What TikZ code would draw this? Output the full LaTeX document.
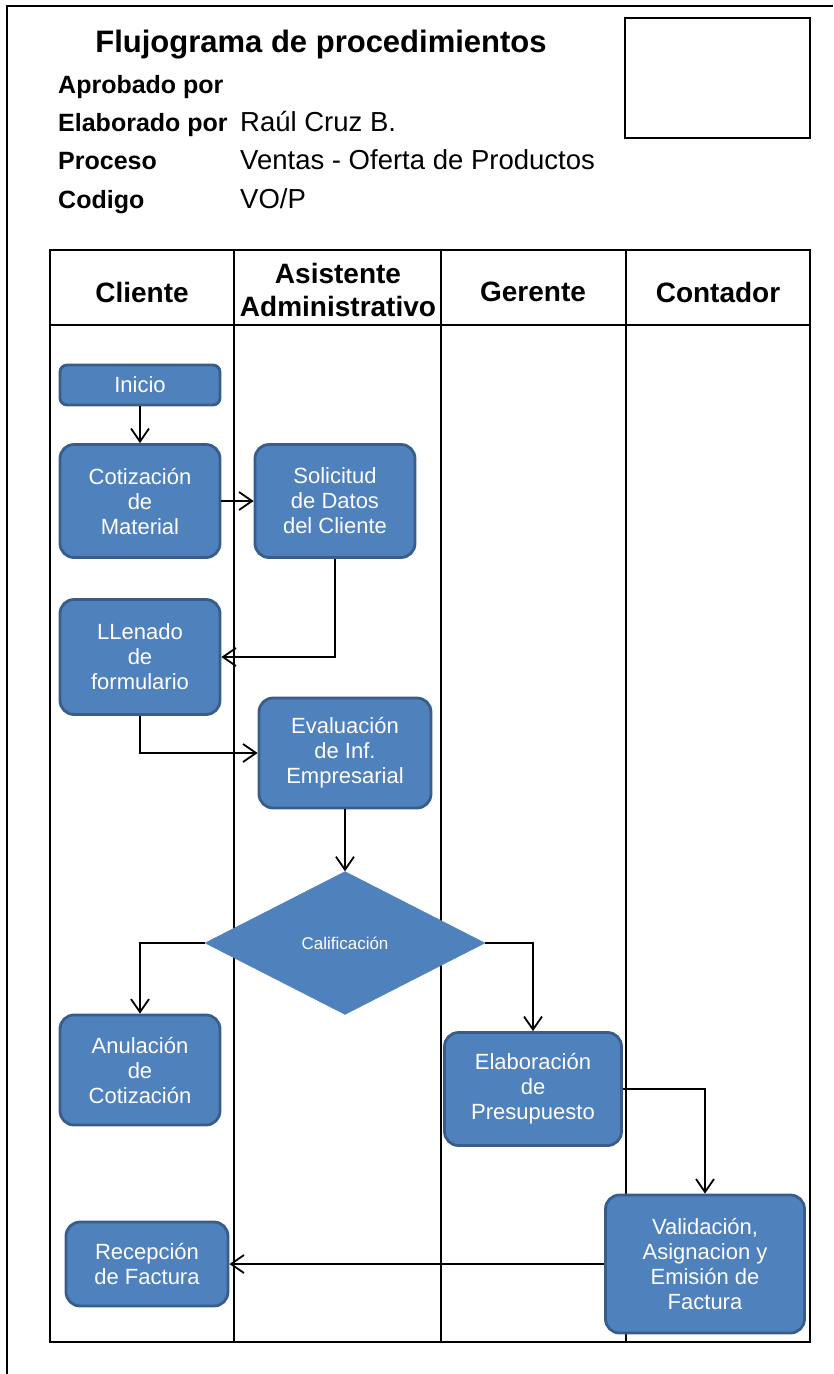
\documentclass[tikz,border=0pt]{standalone}
\usepackage{fontspec}
\setmainfont{Liberation Sans}
\usetikzlibrary{shapes.geometric,arrows.meta}
\definecolor{cajaazul}{HTML}{4F81BD}
\definecolor{bordeazul}{HTML}{385D8A}

\begin{document}
\begin{tikzpicture}[x=1pt,y=-1pt,
		caja/.style={rectangle,rounded corners=14pt,draw=bordeazul,line width=2.8pt,fill=cajaazul,text=white,align=center,inner sep=0pt,font=\fontsize{22}{25}\selectfont},
		rombo/.style={diamond,draw=cajaazul,fill=cajaazul,text=white,inner sep=0pt,font=\fontsize{17}{20}\selectfont},
		flecha/.style={line width=1.8pt,-{Straight Barb[length=13pt,width=18pt]}},
		carril/.style={line width=2pt},
		titulo/.style={inner sep=0pt,font=\fontsize{31}{34}\selectfont\bfseries},
		etiqueta/.style={anchor=base west,inner sep=0pt,font=\fontsize{25}{28}\selectfont\bfseries},
		dato/.style={anchor=base west,inner sep=0pt,font=\fontsize{27.5}{30}\selectfont},
		cabecera/.style={align=center,font=\fontsize{28}{33}\selectfont\bfseries}]
		\useasboundingbox (0,0) rectangle (833,1374);
		% marco y encabezado
		\draw[line width=1.5pt] (7,1374) -- (7,6) -- (833,6);
		\draw[line width=1.5pt] (625,18) rectangle (810,138);
		\draw (321,52) node [titulo,anchor=base] (T) {Flujograma de procedimientos};
		\draw (58,93) node [etiqueta] (L1) {Aprobado por};
		\draw (58,131) node [etiqueta] (L2) {Elaborado por};
		\draw (58,169) node [etiqueta] (L3) {Proceso};
		\draw (58,208) node [etiqueta] (L4) {Codigo};
		\draw (240,131) node [dato] (D2) {Raúl Cruz B.};
		\draw (240,169) node [dato] (D3) {Ventas - Oferta de Productos};
		\draw (240,208) node [dato] (D4) {VO/P};
		% carriles
		\draw[carril] (50,250) rectangle (810,1342);
		\draw[carril] (50,325) -- (810,325);
		\draw[carril] (234,250) -- (234,1342);
		\draw[carril] (441,250) -- (441,1342);
		\draw[carril] (626,250) -- (626,1342);
		\draw (142,292) node [cabecera] (H1) {Cliente};
		\draw (338,290) node [cabecera] (H2) {Asistente\\Administrativo};
		\draw (533,292) node [cabecera] (H3) {Gerente};
		\draw (718,292) node [cabecera] (H4) {Contador};
		% actividades
		\draw node at (140,385) [caja,rounded corners=7pt,minimum width=160pt,minimum height=40pt] (inicio) {Inicio};
		\draw node at (140,501) [caja,minimum width=160pt,minimum height=113pt] (cot) {Cotización\\de\\Material};
		\draw node at (335,501) [caja,minimum width=160pt,minimum height=113pt] (sol) {Solicitud\\de Datos\\del Cliente};
		\draw node at (140,657) [caja,minimum width=160pt,minimum height=115pt] (llen) {LLenado\\de\\formulario};
		\draw node at (345,753) [caja,minimum width=172pt,minimum height=110pt] (eval) {Evaluación\\de Inf.\\Empresarial};
		\draw node at (345,943) [rombo,minimum width=280pt,minimum height=143pt] (calif) {Calificación};
		\draw node at (140,1070) [caja,minimum width=160pt,minimum height=110pt] (anul) {Anulación\\de\\Cotización};
		\draw node at (533,1089) [caja,minimum width=177pt,minimum height=113pt] (elab) {Elaboración\\de\\Presupuesto};
		\draw node at (705,1264) [caja,minimum width=199pt,minimum height=138pt] (valid) {Validación,\\Asignacion y\\Emisión de\\Factura};
		\draw node at (147,1264) [caja,minimum width=162pt,minimum height=84pt] (recep) {Recepción\\de Factura};
		% flujo
		\draw[flecha] (inicio) -- (cot);
		\draw[flecha] (cot) -- (sol);
		\draw[flecha] (sol.south) |- (llen.east);
		\draw[flecha] (llen.south) |- (eval.west);
		\draw[flecha] (eval.south) -- (calif.north);
		\draw[flecha] (calif.west) -| (anul.north);
		\draw[flecha] (calif.east) -| (elab.north);
		\draw[flecha] (elab.east) -| (valid.north);
		\draw[flecha] (valid.west) -- (recep.east);
	\end{tikzpicture}
\end{document}
